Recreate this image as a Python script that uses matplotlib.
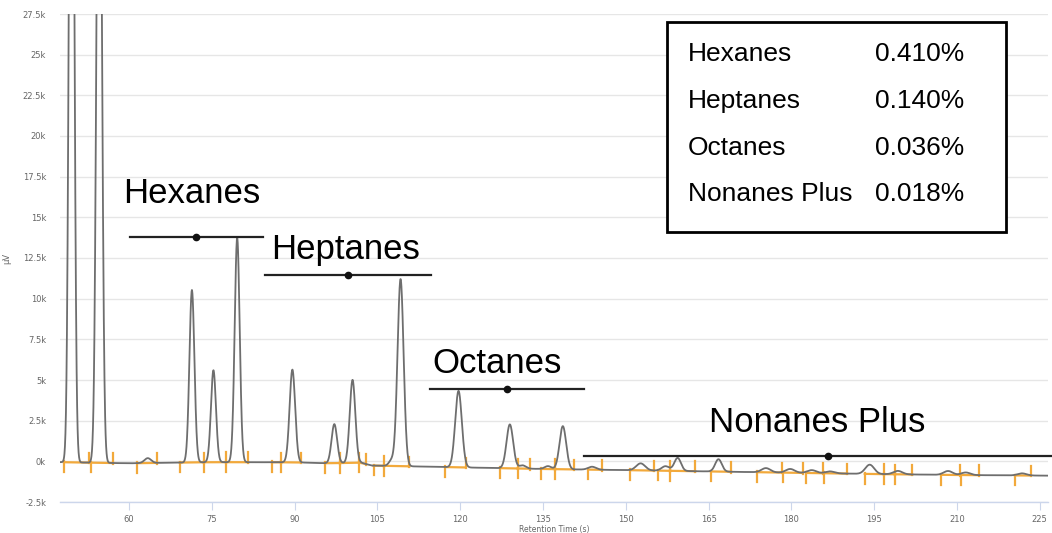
import numpy as np
import matplotlib
matplotlib.use("Agg")
import matplotlib.pyplot as plt
from matplotlib.patches import Rectangle

# peaks: retention time (s), height above baseline (uV), width sigma (s)
peak_time = [49.6, 54.6, 63.4, 71.4, 75.3, 79.6, 89.6, 97.2, 100.5, 107.6, 109.2,
             119.7, 129.0, 131.3, 135.9, 138.6,
             143.9, 152.7, 157.2, 159.4, 166.8, 175.4, 179.8, 183.7, 187.0,
             194.2, 199.3, 208.4, 211.6, 221.8]
peak_height = [60000, 50000, 300, 10600, 5650, 13800, 5700, 2400, 5100, 350, 11500,
               4700, 2700, 200, 180, 2650,
               180, 430, 280, 800, 760, 260, 230, 180, 120,
               570, 210, 240, 160, 130]
peak_sigma = [0.42, 0.45, 0.6, 0.45, 0.45, 0.45, 0.5, 0.5, 0.5, 0.5, 0.55,
              0.6, 0.6, 0.6, 0.6, 0.6,
              0.7, 0.8, 0.7, 0.6, 0.6, 0.8, 0.8, 0.8, 0.8,
              0.8, 0.8, 0.8, 0.8, 0.8]

# baseline drift
base_t = [47.5, 60, 75, 90, 96, 102, 104, 110, 120, 135, 150, 165, 180, 195, 210, 226.5]
base_v = [-50, -120, -50, -60, -120, -80, -260, -300, -370, -470, -540, -620, -700, -780, -840, -880]

# integration windows (start, end) in seconds
seg_start = [48.2, 53.1, 61.5, 69.2, 73.5, 77.6, 85.9, 87.6, 95.5, 98.2, 101.7, 104.3, 106.2,
             117.3, 127.3, 130.4, 134.7, 137.2, 143.2, 150.8, 155.9, 158.1, 165.4,
             173.8, 178.4, 182.7, 185.9, 193.3, 196.7, 198.7, 207.1, 210.8, 220.5]
seg_end = [52.7, 57.1, 65.0, 73.5, 77.6, 81.6, 87.6, 91.1, 98.2, 101.6, 102.9, 106.2, 110.8,
           121.0, 130.4, 132.6, 137.2, 140.6, 145.7, 155.1, 158.1, 162.6, 169.1,
           178.3, 182.1, 185.8, 190.1, 196.7, 198.7, 201.9, 210.6, 214.0, 223.4]

# compound groups: label, span start, span end, marker, level (uV), text position
group_names = ["Hexanes", "Heptanes", "Octanes", "Nonanes Plus"]
group_start = [60.2, 84.7, 114.5, 142.4]
group_end = [84.2, 114.7, 142.4, 227.3]
group_mark = [72.2, 99.6, 128.5, 186.6]
group_level = [13820, 11430, 4420, 310]
group_text_x = [58.9, 85.8, 115.0, 165.0]
group_text_y = [16450, 13050, 6000, 2400]

summary_names = ["Hexanes", "Heptanes", "Octanes", "Nonanes Plus"]
summary_values = ["0.410%", "0.140%", "0.036%", "0.018%"]

t = np.linspace(47.5, 226.5, 6000)
baseline = np.interp(t, base_t, base_v)
signal = baseline.copy()
for c, h, s in zip(peak_time, peak_height, peak_sigma):
    signal += h * np.exp(-0.5 * ((t - c) / s) ** 2)

fig = plt.figure(figsize=(10.52, 5.33), dpi=100)
ax = fig.add_axes([60 / 1052, 31 / 533, 988 / 1052, 488 / 533])

ax.plot(t, signal, color="#6e6e6e", lw=1.3, zorder=3)

orange = "#f2a93b"
tick_len = 600
for a, b in zip(seg_start, seg_end):
    ya = np.interp(a, base_t, base_v)
    yb = np.interp(b, base_t, base_v)
    ax.plot([a, b], [ya, yb], color=orange, lw=1.6, zorder=2)
    ax.plot([a, a], [ya - tick_len, ya + 50], color=orange, lw=1.6, zorder=2)
    ax.plot([b, b], [yb - 50, yb + tick_len], color=orange, lw=1.6, zorder=2)

for name, a, b, m, lv, tx, ty in zip(group_names, group_start, group_end, group_mark,
                                     group_level, group_text_x, group_text_y):
    ax.plot([a, b], [lv, lv], color="#222222", lw=1.6, zorder=4, clip_on=False)
    ax.plot([m], [lv], "o", color="#111111", ms=4.5, zorder=5, clip_on=False)
    ax.text(tx, ty, name, fontsize=25, family="Liberation Sans",
            color="black", va="center", ha="left", zorder=6)

ax.set_xlim(47.5, 226.5)
ax.set_ylim(-2500, 27500)
ax.set_xticks(np.arange(60, 226, 15))
ax.set_yticks(np.arange(-2500, 27501, 2500))
ax.set_yticklabels([f"{v / 1000:g}k" for v in np.arange(-2500, 27501, 2500)])
ax.grid(axis="y", color="#e6e6e6", lw=1)
ax.set_axisbelow(True)
for side in ["top", "right", "left"]:
    ax.spines[side].set_visible(False)
ax.spines["bottom"].set_color("#ccd6eb")
ax.spines["bottom"].set_linewidth(1)
ax.tick_params(axis="y", length=0, labelsize=6, labelcolor="#666666", pad=10)
ax.tick_params(axis="x", length=6, color="#ccd6eb", labelsize=6,
               labelcolor="#666666", pad=3)
ax.set_xlabel("Retention Time (s)", fontsize=5.5, color="#666666", labelpad=1)
ax.set_ylabel("µV", fontsize=6, color="#666666", labelpad=8)

# summary box
fig.patches.append(Rectangle((667 / 1052, 1 - 232 / 533), 339 / 1052, 210 / 533,
                             transform=fig.transFigure, fill=True, facecolor="white",
                             edgecolor="black", lw=2, zorder=10))
row_y = [54, 101, 148, 194]
for name, val, y in zip(summary_names, summary_values, row_y):
    fig.text(688 / 1052, 1 - y / 533, name, fontsize=19, family="Liberation Sans",
             va="center", ha="left", zorder=11)
    fig.text(964 / 1052, 1 - y / 533, val, fontsize=19, family="Liberation Sans",
             va="center", ha="right", zorder=11)

fig.savefig("out.png", dpi=100)
